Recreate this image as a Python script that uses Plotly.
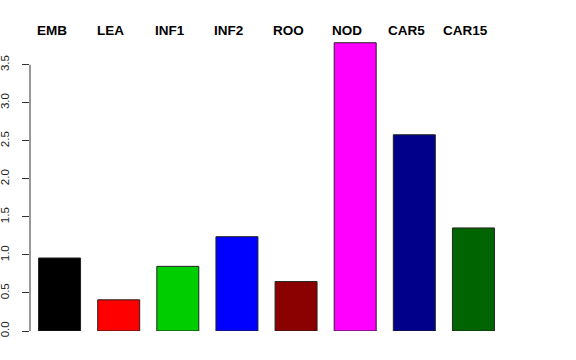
import plotly.graph_objects as go

categories = ["EMB", "LEA", "INF1", "INF2", "ROO", "NOD", "CAR5", "CAR15"]
values = [0.96, 0.41, 0.85, 1.24, 0.65, 3.79, 2.58, 1.355]
colors = ["#000000", "#FF0000", "#00CD00", "#0000FF", "#8B0000", "#FF00FF", "#00008B", "#006400"]
y_ticks = [0.0, 0.5, 1.0, 1.5, 2.0, 2.5, 3.0, 3.5]
y_ticktext = ["0.0", "0.5", "1.0", "1.5", "2.0", "2.5", "3.0", "3.5"]

fig = go.Figure()
fig.add_trace(go.Bar(
    x=categories, y=values,
    marker=dict(color=colors, line=dict(color="#222222", width=1)),
    width=0.71,
    showlegend=False,
    hoverinfo="skip",
))

for c in categories:
    fig.add_annotation(
        x=c, y=1.0415, xref="x", yref="paper", text=c, showarrow=False,
        xshift=-8, yanchor="middle",
        font=dict(family="Liberation Sans", size=13.5, color="black", weight="bold"),
    )

# R-style axis line spanning only the tick range
fig.add_shape(type="line", xref="paper", yref="y", x0=0, x1=0,
              y0=y_ticks[0], y1=y_ticks[-1], line=dict(color="#333333", width=1))

fig.update_layout(
    width=576, height=360,
    margin=dict(l=30, r=73, t=42, b=29),
    plot_bgcolor="white", paper_bgcolor="white",
    xaxis=dict(showticklabels=False, showgrid=False, zeroline=False, showline=False,
               range=[-0.5, 7.5], ticks="", automargin=False),
    yaxis=dict(range=[0, 3.8], tickvals=y_ticks, ticktext=y_ticktext,
               showgrid=False, zeroline=False, showline=False, automargin=False,
               ticks="outside", ticklen=7, tickcolor="#333333", tickwidth=1,
               tickangle=-90, ticklabelstandoff=8,
               tickfont=dict(family="Liberation Sans", size=11.5, color="#222222")),
    bargap=0.29,
)

fig.write_html("out.html", config={"displayModeBar": False},
               post_script="document.body.style.margin='0px';")
